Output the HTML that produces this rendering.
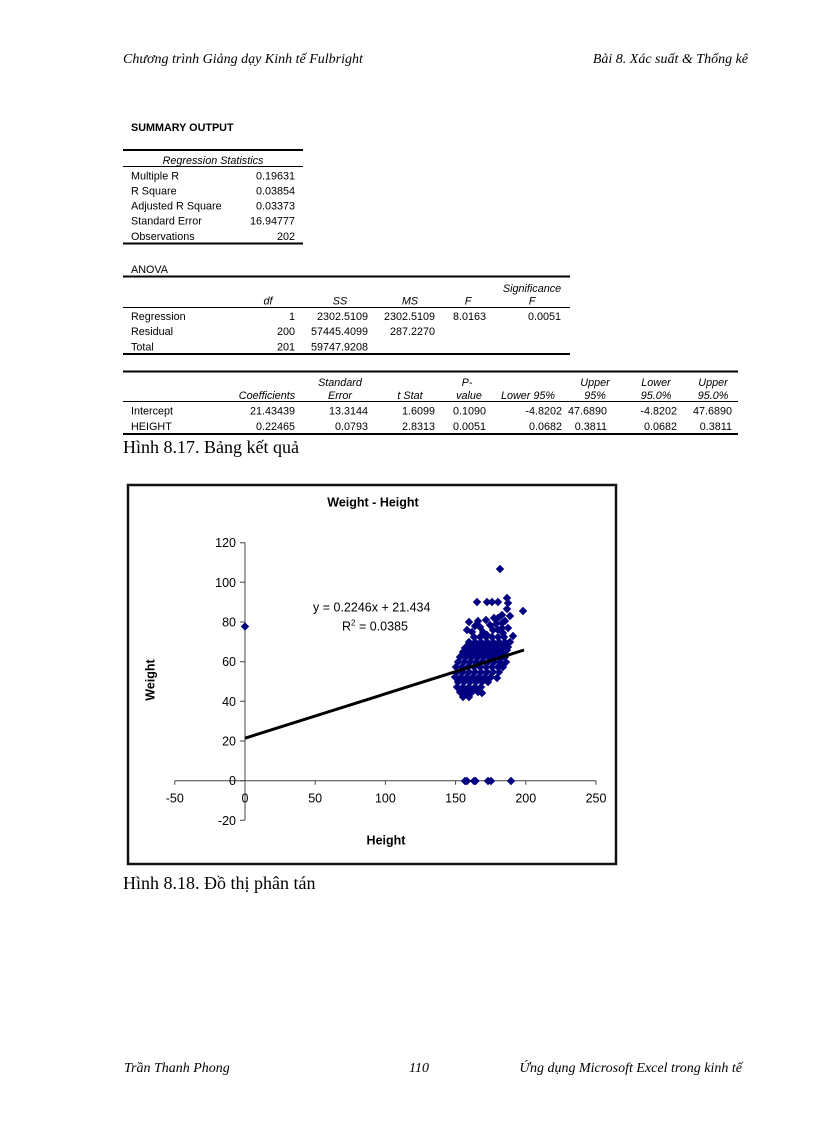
<!DOCTYPE html>
<html><head><meta charset="utf-8"><style>
html,body{margin:0;padding:0;background:#fff;}
body{width:816px;height:1123px;overflow:hidden;}
svg{display:block;}
.a{font-family:"Liberation Sans",Arial,sans-serif;font-size:10.8px;fill:#000;}
.i{font-style:italic;}
.t{font-family:"Liberation Serif","Noto Serif CJK SC",serif;fill:#000;}
.c{font-family:"Liberation Sans",Arial,sans-serif;font-size:12.5px;fill:#000;}
.b{font-weight:bold;}
</style></head><body>
<svg width="816" height="1123" viewBox="0 0 816 1123" xmlns="http://www.w3.org/2000/svg">
<!-- header -->
<text class="t i" x="123" y="63" font-size="14">Chương trình Giảng dạy Kinh tế Fulbright</text>
<text class="t i" x="748" y="63" font-size="14" text-anchor="end">Bài 8. Xác suất &amp; Thống kê</text>

<!-- summary -->
<text class="a b" x="131" y="131">SUMMARY OUTPUT</text>

<!-- regression statistics -->
<line x1="123" y1="150" x2="303" y2="150" stroke="#000" stroke-width="2"/>
<text class="a i" x="213" y="164" text-anchor="middle">Regression Statistics</text>
<line x1="123" y1="166.5" x2="303" y2="166.5" stroke="#000" stroke-width="1"/>
<text class="a" x="131" y="179.5">Multiple R</text><text class="a" x="295" y="179.5" text-anchor="end">0.19631</text>
<text class="a" x="131" y="194.5">R Square</text><text class="a" x="295" y="194.5" text-anchor="end">0.03854</text>
<text class="a" x="131" y="209.5">Adjusted R Square</text><text class="a" x="295" y="209.5" text-anchor="end">0.03373</text>
<text class="a" x="131" y="224.5">Standard Error</text><text class="a" x="295" y="224.5" text-anchor="end">16.94777</text>
<text class="a" x="131" y="240">Observations</text><text class="a" x="295" y="240" text-anchor="end">202</text>
<line x1="123" y1="243.5" x2="303" y2="243.5" stroke="#000" stroke-width="2"/>

<!-- ANOVA -->
<text class="a" x="131" y="273">ANOVA</text>
<line x1="123" y1="276.5" x2="570" y2="276.5" stroke="#000" stroke-width="2"/>
<text class="a i" x="532" y="292" text-anchor="middle">Significance</text>
<text class="a i" x="268" y="304.5" text-anchor="middle">df</text>
<text class="a i" x="340" y="304.5" text-anchor="middle">SS</text>
<text class="a i" x="410" y="304.5" text-anchor="middle">MS</text>
<text class="a i" x="468" y="304.5" text-anchor="middle">F</text>
<text class="a i" x="532" y="304.5" text-anchor="middle">F</text>
<line x1="123" y1="307.5" x2="570" y2="307.5" stroke="#000" stroke-width="1"/>
<text class="a" x="131" y="320">Regression</text>
<text class="a" x="295" y="320" text-anchor="end">1</text>
<text class="a" x="368" y="320" text-anchor="end">2302.5109</text>
<text class="a" x="435" y="320" text-anchor="end">2302.5109</text>
<text class="a" x="486" y="320" text-anchor="end">8.0163</text>
<text class="a" x="561" y="320" text-anchor="end">0.0051</text>
<text class="a" x="131" y="335">Residual</text>
<text class="a" x="295" y="335" text-anchor="end">200</text>
<text class="a" x="368" y="335" text-anchor="end">57445.4099</text>
<text class="a" x="435" y="335" text-anchor="end">287.2270</text>
<text class="a" x="131" y="350.5">Total</text>
<text class="a" x="295" y="350.5" text-anchor="end">201</text>
<text class="a" x="368" y="350.5" text-anchor="end">59747.9208</text>
<line x1="123" y1="354" x2="570" y2="354" stroke="#000" stroke-width="2"/>

<!-- coefficients -->
<line x1="123" y1="371.5" x2="738" y2="371.5" stroke="#000" stroke-width="2"/>
<text class="a i" x="340" y="386" text-anchor="middle">Standard</text>
<text class="a i" x="467" y="386" text-anchor="middle">P-</text>
<text class="a i" x="595" y="386" text-anchor="middle">Upper</text>
<text class="a i" x="656" y="386" text-anchor="middle">Lower</text>
<text class="a i" x="713" y="386" text-anchor="middle">Upper</text>
<text class="a i" x="267" y="399" text-anchor="middle">Coefficients</text>
<text class="a i" x="340" y="399" text-anchor="middle">Error</text>
<text class="a i" x="410" y="399" text-anchor="middle">t Stat</text>
<text class="a i" x="469" y="399" text-anchor="middle">value</text>
<text class="a i" x="528" y="399" text-anchor="middle">Lower 95%</text>
<text class="a i" x="595" y="399" text-anchor="middle">95%</text>
<text class="a i" x="656" y="399" text-anchor="middle">95.0%</text>
<text class="a i" x="713" y="399" text-anchor="middle">95.0%</text>
<line x1="123" y1="401.5" x2="738" y2="401.5" stroke="#000" stroke-width="1"/>
<text class="a" x="131" y="414.5">Intercept</text>
<text class="a" x="295" y="414.5" text-anchor="end">21.43439</text>
<text class="a" x="368" y="414.5" text-anchor="end">13.3144</text>
<text class="a" x="435" y="414.5" text-anchor="end">1.6099</text>
<text class="a" x="486" y="414.5" text-anchor="end">0.1090</text>
<text class="a" x="562" y="414.5" text-anchor="end">-4.8202</text>
<text class="a" x="607" y="414.5" text-anchor="end">47.6890</text>
<text class="a" x="677" y="414.5" text-anchor="end">-4.8202</text>
<text class="a" x="732" y="414.5" text-anchor="end">47.6890</text>
<text class="a" x="131" y="430">HEIGHT</text>
<text class="a" x="295" y="430" text-anchor="end">0.22465</text>
<text class="a" x="368" y="430" text-anchor="end">0.0793</text>
<text class="a" x="435" y="430" text-anchor="end">2.8313</text>
<text class="a" x="486" y="430" text-anchor="end">0.0051</text>
<text class="a" x="562" y="430" text-anchor="end">0.0682</text>
<text class="a" x="607" y="430" text-anchor="end">0.3811</text>
<text class="a" x="677" y="430" text-anchor="end">0.0682</text>
<text class="a" x="732" y="430" text-anchor="end">0.3811</text>
<line x1="123" y1="434" x2="738" y2="434" stroke="#000" stroke-width="2"/>

<text class="t" x="123" y="453" font-size="18">Hình 8.17. Bảng kết quả</text>

<!-- chart -->
<rect x="128" y="485" width="488" height="379" fill="#fff" stroke="#111" stroke-width="2.5"/>
<text class="c b" x="373" y="506.5" text-anchor="middle">Weight - Height</text>

<!-- axes -->
<g stroke="#444" stroke-width="1" fill="none">
<line x1="245" y1="542.7" x2="245" y2="820.3"/>
<line x1="174.8" y1="780.7" x2="596" y2="780.7"/>
<path d="M240 542.7h5M240 582.3h5M240 622h5M240 661.7h5M240 701.3h5M240 741h5M240 780.7h5M240 820.3h5"/>
<path d="M174.8 780.7v4M245 780.7v4M315.2 780.7v4M385.4 780.7v4M455.6 780.7v4M525.8 780.7v4M596 780.7v4"/>
</g>
<g class="c" text-anchor="end">
<text x="236" y="547">120</text>
<text x="236" y="587">100</text>
<text x="236" y="626.5">80</text>
<text x="236" y="666">60</text>
<text x="236" y="706">40</text>
<text x="236" y="745.5">20</text>
<text x="236" y="785">0</text>
<text x="236" y="825">-20</text>
</g>
<g class="c" text-anchor="middle">
<text x="174.8" y="802.5">-50</text>
<text x="245" y="802.5">0</text>
<text x="315.2" y="802.5">50</text>
<text x="385.4" y="802.5">100</text>
<text x="455.6" y="802.5">150</text>
<text x="525.8" y="802.5">200</text>
<text x="596" y="802.5">250</text>
</g>
<text class="c b" transform="translate(154.5,680) rotate(-90)" text-anchor="middle">Weight</text>
<text class="c b" x="386" y="844.5" text-anchor="middle">Height</text>

<!-- points -->
<path fill="#000080" d="
M245 626.5m0-4.2l4.2 4.2-4.2 4.2-4.2-4.2z
M500 569m0-4.2l4.2 4.2-4.2 4.2-4.2-4.2z
M477 602m0-4.2l4.2 4.2-4.2 4.2-4.2-4.2z
M487 602m0-4.2l4.2 4.2-4.2 4.2-4.2-4.2z
M492 602m0-4.2l4.2 4.2-4.2 4.2-4.2-4.2z
M498 602m0-4.2l4.2 4.2-4.2 4.2-4.2-4.2z
M507 598m0-4.2l4.2 4.2-4.2 4.2-4.2-4.2z
M508 603m0-4.2l4.2 4.2-4.2 4.2-4.2-4.2z
M507 609m0-4.2l4.2 4.2-4.2 4.2-4.2-4.2z
M523 611m0-4.2l4.2 4.2-4.2 4.2-4.2-4.2z
M502 615m0-4.2l4.2 4.2-4.2 4.2-4.2-4.2z
M498 618m0-4.2l4.2 4.2-4.2 4.2-4.2-4.2z
M494 618m0-4.2l4.2 4.2-4.2 4.2-4.2-4.2z
M510 616m0-4.2l4.2 4.2-4.2 4.2-4.2-4.2z
M469 622m0-4.2l4.2 4.2-4.2 4.2-4.2-4.2z
M478 621m0-4.2l4.2 4.2-4.2 4.2-4.2-4.2z
M486 620m0-4.2l4.2 4.2-4.2 4.2-4.2-4.2z
M502 623m0-4.2l4.2 4.2-4.2 4.2-4.2-4.2z
M505 621m0-4.2l4.2 4.2-4.2 4.2-4.2-4.2z
M475 626m0-4.2l4.2 4.2-4.2 4.2-4.2-4.2z
M490 625m0-4.2l4.2 4.2-4.2 4.2-4.2-4.2z
M496 624m0-4.2l4.2 4.2-4.2 4.2-4.2-4.2z
M467 630m0-4.2l4.2 4.2-4.2 4.2-4.2-4.2z
M472 632m0-4.2l4.2 4.2-4.2 4.2-4.2-4.2z
M480 627m0-4.2l4.2 4.2-4.2 4.2-4.2-4.2z
M483 632m0-4.2l4.2 4.2-4.2 4.2-4.2-4.2z
M487 635m0-4.2l4.2 4.2-4.2 4.2-4.2-4.2z
M493 630m0-4.2l4.2 4.2-4.2 4.2-4.2-4.2z
M498 630m0-4.2l4.2 4.2-4.2 4.2-4.2-4.2z
M502 628m0-4.2l4.2 4.2-4.2 4.2-4.2-4.2z
M503 633m0-4.2l4.2 4.2-4.2 4.2-4.2-4.2z
M508 628m0-4.2l4.2 4.2-4.2 4.2-4.2-4.2z
M513 636m0-4.2l4.2 4.2-4.2 4.2-4.2-4.2z
M510 642m0-4.2l4.2 4.2-4.2 4.2-4.2-4.2z
M465 648m0-4.2l4.2 4.2-4.2 4.2-4.2-4.2z
M507 650m0-4.2l4.2 4.2-4.2 4.2-4.2-4.2z
M505 657m0-4.2l4.2 4.2-4.2 4.2-4.2-4.2z
M497 678m0-4.2l4.2 4.2-4.2 4.2-4.2-4.2z
M482 693m0-4.2l4.2 4.2-4.2 4.2-4.2-4.2z
M463 697m0-4.2l4.2 4.2-4.2 4.2-4.2-4.2z
M457 687m0-4.2l4.2 4.2-4.2 4.2-4.2-4.2z
M474 637m0-4.2l4.2 4.2-4.2 4.2-4.2-4.2z
M480 637m0-4.2l4.2 4.2-4.2 4.2-4.2-4.2z
M486 637m0-4.2l4.2 4.2-4.2 4.2-4.2-4.2z
M492 637m0-4.2l4.2 4.2-4.2 4.2-4.2-4.2z
M498 637m0-4.2l4.2 4.2-4.2 4.2-4.2-4.2z
M504 637m0-4.2l4.2 4.2-4.2 4.2-4.2-4.2z
M469 642m0-4.2l4.2 4.2-4.2 4.2-4.2-4.2z
M475 642m0-4.2l4.2 4.2-4.2 4.2-4.2-4.2z
M481 642m0-4.2l4.2 4.2-4.2 4.2-4.2-4.2z
M487 642m0-4.2l4.2 4.2-4.2 4.2-4.2-4.2z
M493 642m0-4.2l4.2 4.2-4.2 4.2-4.2-4.2z
M499 642m0-4.2l4.2 4.2-4.2 4.2-4.2-4.2z
M505 642m0-4.2l4.2 4.2-4.2 4.2-4.2-4.2z
M466 647m0-4.2l4.2 4.2-4.2 4.2-4.2-4.2z
M472 647m0-4.2l4.2 4.2-4.2 4.2-4.2-4.2z
M478 647m0-4.2l4.2 4.2-4.2 4.2-4.2-4.2z
M484 647m0-4.2l4.2 4.2-4.2 4.2-4.2-4.2z
M490 647m0-4.2l4.2 4.2-4.2 4.2-4.2-4.2z
M496 647m0-4.2l4.2 4.2-4.2 4.2-4.2-4.2z
M502 647m0-4.2l4.2 4.2-4.2 4.2-4.2-4.2z
M508 647m0-4.2l4.2 4.2-4.2 4.2-4.2-4.2z
M463 652m0-4.2l4.2 4.2-4.2 4.2-4.2-4.2z
M469 652m0-4.2l4.2 4.2-4.2 4.2-4.2-4.2z
M475 652m0-4.2l4.2 4.2-4.2 4.2-4.2-4.2z
M481 652m0-4.2l4.2 4.2-4.2 4.2-4.2-4.2z
M487 652m0-4.2l4.2 4.2-4.2 4.2-4.2-4.2z
M493 652m0-4.2l4.2 4.2-4.2 4.2-4.2-4.2z
M499 652m0-4.2l4.2 4.2-4.2 4.2-4.2-4.2z
M505 652m0-4.2l4.2 4.2-4.2 4.2-4.2-4.2z
M460 657m0-4.2l4.2 4.2-4.2 4.2-4.2-4.2z
M466 657m0-4.2l4.2 4.2-4.2 4.2-4.2-4.2z
M472 657m0-4.2l4.2 4.2-4.2 4.2-4.2-4.2z
M478 657m0-4.2l4.2 4.2-4.2 4.2-4.2-4.2z
M484 657m0-4.2l4.2 4.2-4.2 4.2-4.2-4.2z
M490 657m0-4.2l4.2 4.2-4.2 4.2-4.2-4.2z
M496 657m0-4.2l4.2 4.2-4.2 4.2-4.2-4.2z
M502 657m0-4.2l4.2 4.2-4.2 4.2-4.2-4.2z
M458 662m0-4.2l4.2 4.2-4.2 4.2-4.2-4.2z
M464 662m0-4.2l4.2 4.2-4.2 4.2-4.2-4.2z
M470 662m0-4.2l4.2 4.2-4.2 4.2-4.2-4.2z
M476 662m0-4.2l4.2 4.2-4.2 4.2-4.2-4.2z
M482 662m0-4.2l4.2 4.2-4.2 4.2-4.2-4.2z
M488 662m0-4.2l4.2 4.2-4.2 4.2-4.2-4.2z
M494 662m0-4.2l4.2 4.2-4.2 4.2-4.2-4.2z
M500 662m0-4.2l4.2 4.2-4.2 4.2-4.2-4.2z
M506 662m0-4.2l4.2 4.2-4.2 4.2-4.2-4.2z
M456 667m0-4.2l4.2 4.2-4.2 4.2-4.2-4.2z
M462 667m0-4.2l4.2 4.2-4.2 4.2-4.2-4.2z
M468 667m0-4.2l4.2 4.2-4.2 4.2-4.2-4.2z
M474 667m0-4.2l4.2 4.2-4.2 4.2-4.2-4.2z
M480 667m0-4.2l4.2 4.2-4.2 4.2-4.2-4.2z
M486 667m0-4.2l4.2 4.2-4.2 4.2-4.2-4.2z
M492 667m0-4.2l4.2 4.2-4.2 4.2-4.2-4.2z
M498 667m0-4.2l4.2 4.2-4.2 4.2-4.2-4.2z
M503 667m0-4.2l4.2 4.2-4.2 4.2-4.2-4.2z
M457 672m0-4.2l4.2 4.2-4.2 4.2-4.2-4.2z
M463 672m0-4.2l4.2 4.2-4.2 4.2-4.2-4.2z
M469 672m0-4.2l4.2 4.2-4.2 4.2-4.2-4.2z
M475 672m0-4.2l4.2 4.2-4.2 4.2-4.2-4.2z
M481 672m0-4.2l4.2 4.2-4.2 4.2-4.2-4.2z
M487 672m0-4.2l4.2 4.2-4.2 4.2-4.2-4.2z
M493 672m0-4.2l4.2 4.2-4.2 4.2-4.2-4.2z
M499 672m0-4.2l4.2 4.2-4.2 4.2-4.2-4.2z
M455 677m0-4.2l4.2 4.2-4.2 4.2-4.2-4.2z
M461 677m0-4.2l4.2 4.2-4.2 4.2-4.2-4.2z
M467 677m0-4.2l4.2 4.2-4.2 4.2-4.2-4.2z
M473 677m0-4.2l4.2 4.2-4.2 4.2-4.2-4.2z
M479 677m0-4.2l4.2 4.2-4.2 4.2-4.2-4.2z
M485 677m0-4.2l4.2 4.2-4.2 4.2-4.2-4.2z
M491 677m0-4.2l4.2 4.2-4.2 4.2-4.2-4.2z
M458 682m0-4.2l4.2 4.2-4.2 4.2-4.2-4.2z
M464 682m0-4.2l4.2 4.2-4.2 4.2-4.2-4.2z
M470 682m0-4.2l4.2 4.2-4.2 4.2-4.2-4.2z
M476 682m0-4.2l4.2 4.2-4.2 4.2-4.2-4.2z
M482 682m0-4.2l4.2 4.2-4.2 4.2-4.2-4.2z
M488 682m0-4.2l4.2 4.2-4.2 4.2-4.2-4.2z
M463 687m0-4.2l4.2 4.2-4.2 4.2-4.2-4.2z
M469 687m0-4.2l4.2 4.2-4.2 4.2-4.2-4.2z
M475 687m0-4.2l4.2 4.2-4.2 4.2-4.2-4.2z
M481 687m0-4.2l4.2 4.2-4.2 4.2-4.2-4.2z
M460 692m0-4.2l4.2 4.2-4.2 4.2-4.2-4.2z
M466 692m0-4.2l4.2 4.2-4.2 4.2-4.2-4.2z
M472 692m0-4.2l4.2 4.2-4.2 4.2-4.2-4.2z
M478 692m0-4.2l4.2 4.2-4.2 4.2-4.2-4.2z
M469 697m0-4.2l4.2 4.2-4.2 4.2-4.2-4.2z
M465 781m0-4.2l4.2 4.2-4.2 4.2-4.2-4.2z
M467 781m0-4.2l4.2 4.2-4.2 4.2-4.2-4.2z
M474 781m0-4.2l4.2 4.2-4.2 4.2-4.2-4.2z
M475.5 781m0-4.2l4.2 4.2-4.2 4.2-4.2-4.2z
M488 781m0-4.2l4.2 4.2-4.2 4.2-4.2-4.2z
M491 781m0-4.2l4.2 4.2-4.2 4.2-4.2-4.2z
M511 781m0-4.2l4.2 4.2-4.2 4.2-4.2-4.2z
"/>

<!-- trend line -->
<line x1="245" y1="738.2" x2="524" y2="650" stroke="#000" stroke-width="3"/>

<!-- equation -->
<text class="c" x="313" y="611.5">y = 0.2246x + 21.434</text>
<text class="c" x="342" y="630.5">R<tspan font-size="8" dy="-5">2</tspan><tspan dy="5"> = 0.0385</tspan></text>

<text class="t" x="123" y="889" font-size="18">Hình 8.18. Đồ thị phân tán</text>

<!-- footer -->
<text class="t i" x="124" y="1072" font-size="14">Trần Thanh Phong</text>
<text class="t i" x="419" y="1072" font-size="14" text-anchor="middle">110</text>
<text class="t i" x="742" y="1072" font-size="14" text-anchor="end">Ứng dụng Microsoft Excel trong kinh tế</text>
</svg>
</body></html>
